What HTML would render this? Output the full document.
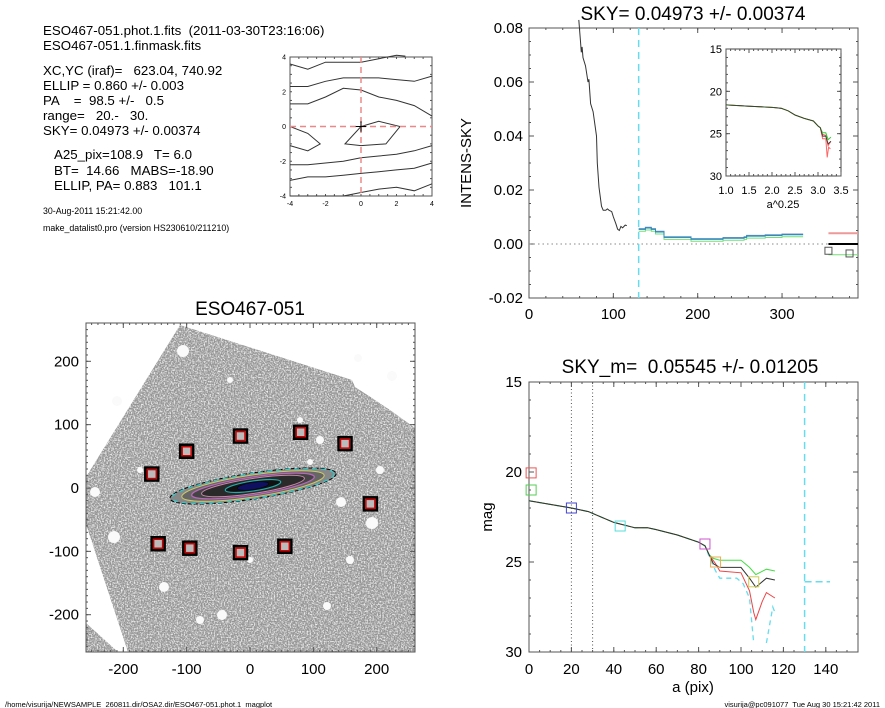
<!DOCTYPE html>
<html><head><meta charset="utf-8"><style>
html,body{margin:0;padding:0;background:#fff;}
svg{display:block;font-family:"Liberation Sans",Arial,sans-serif;}
text{white-space:pre;}
</style></head><body>
<svg id="s" width="885" height="708" viewBox="0 0 885 708" xmlns="http://www.w3.org/2000/svg" xml:space="preserve">
<defs>
<filter id="noise" x="0" y="0" width="100%" height="100%">
<feTurbulence type="fractalNoise" baseFrequency="0.7" numOctaves="2" seed="3" result="t"/>
<feColorMatrix type="matrix" values="0 0 0 0 0.3  0 0 0 0 0.3  0 0 0 0 0.3  2.2 0 0 0 -0.45" result="a"/>
<feComponentTransfer in="a" result="b"><feFuncA type="discrete" tableValues="0 0.3 0.6 0.85 1"/></feComponentTransfer>
<feFlood flood-color="#eeeeee" result="w"/>
<feComposite in="b" in2="w" operator="over" result="c"/>
<feComposite in="c" in2="SourceGraphic" operator="in"/>
</filter>
<clipPath id="imgclip"><rect x="86" y="323" width="329" height="329"/></clipPath>
</defs>
<g font-size="13.3" fill="#000">
<text x="43" y="35">ESO467-051.phot.1.fits  (2011-03-30T23:16:06)</text>
<text x="43" y="50">ESO467-051.1.finmask.fits</text>
<text x="43" y="75">XC,YC (iraf)=   623.04, 740.92</text>
<text x="43" y="90">ELLIP = 0.860 +/- 0.003</text>
<text x="43" y="105">PA    =  98.5 +/-   0.5</text>
<text x="43" y="120">range=   20.-   30.</text>
<text x="43" y="135">SKY= 0.04973 +/- 0.00374</text>
<text x="54" y="159">A25_pix=108.9   T= 6.0</text>
<text x="54" y="175">BT=  14.66   MABS=-18.90</text>
<text x="54" y="190">ELLIP, PA= 0.883   101.1</text>
<text x="43" y="214" font-size="8.8">30-Aug-2011 15:21:42.00</text>
<text x="43" y="231" font-size="8.8">make_datalist0.pro (version HS230610/211210)</text>
</g>
<g id="g"></g>
</svg>
<script>
var NS="http://www.w3.org/2000/svg",G=document.getElementById("g");
function el(n,a,t){var e=document.createElementNS(NS,n);for(var k in a)e.setAttribute(k,a[k]);if(t!==undefined)e.textContent=t;G.appendChild(e);return e;}
function line(x1,y1,x2,y2,c,w,d){var a={x1:x1,y1:y1,x2:x2,y2:y2,stroke:c,"stroke-width":w||1};if(d)a["stroke-dasharray"]=d;el("line",a);}
function txt(x,y,s,fs,anc,extra){var a={x:x,y:y,"font-size":fs,"text-anchor":anc||"middle"};for(var k in extra)a[k]=extra[k];el("text",a,s);}
function poly(pts,c,w,d){var a={points:pts.map(function(p){return p[0].toFixed(1)+","+p[1].toFixed(1)}).join(" "),fill:"none",stroke:c,"stroke-width":w||1};if(d)a["stroke-dasharray"]=d;el("polyline",a);}
function box(x0,y0,x1,y1){el("rect",{x:x0,y:y0,width:x1-x0,height:y1-y0,fill:"none",stroke:"#555","stroke-width":1});}
function ticks(x0,y0,x1,y1,xs,ys,len){
 xs.forEach(function(x){line(x,y1,x,y1-len,"#555",1);line(x,y0,x,y0+len,"#555",1);});
 ys.forEach(function(y){line(x0,y,x0+len,y,"#555",1);line(x1,y,x1-len,y,"#555",1);});
}
function rng(a,b,s){var r=[];for(var v=a;v<=b+1e-9;v+=s)r.push(v);return r;}

/* ---- contour panel ---- */
(function(){
 var x0=290,x1=432,y0=57,y1=196;
 var X=function(v){return x0+(v+4)*(x1-x0)/8},Y=function(v){return y1-(v+4)*(y1-y0)/8};
 box(x0,y0,x1,y1);
 ticks(x0,y0,x1,y1,rng(-4,4,0.5).map(X),rng(-4,4,0.5).map(Y),2);
 [-4,-2,0,2,4].forEach(function(v){txt(X(v),206,String(v),7);txt(x0-4,Y(v)+2.5,String(v),7,"end");});
 var c="#333";
 var M=function(a){return a.map(function(p){return[X(p[0]),Y(p[1])]})};
 poly(M([[-4,3.6],[-3,3.3],[-2,3.7],[-1,3.7],[0,3.7],[1,3.9],[2,4.1],[2.5,4.05]]),c);
 poly(M([[-4,2.3],[-3,2.3],[-2,2.6],[-1,2.8],[0,2.8],[1,2.8],[2,2.7],[3,2.6],[4,2.9]]),c);
 poly(M([[-4,1.3],[-3,1.3],[-2,1.7],[-1,2.2],[0,2.1],[1,1.7],[2,1.5],[3,1.2],[4,0.6]]),c);
 poly(M([[-4,0],[-3,-0.4],[-2.3,-1],[-3,-1.4],[-4,-1.1]]),c);
 poly(M([[0,0],[1,0.3],[2.2,0],[1.4,-1],[0,-1.1],[-0.9,-1],[0,0]]),c);
 poly(M([[-4,-2.2],[-3,-2.2],[-2,-2.1],[-1,-2],[0,-1.8],[1,-1.7],[2,-1.6],[3,-1.4],[4,-1.1]]),c);
 poly(M([[-4,-3.1],[-3,-2.9],[-2,-2.9],[-1,-2.8],[0,-2.7],[1,-2.6],[2,-2.5],[3,-2.4],[4,-2.1]]),c);
 poly(M([[-4,-4],[-3,-4],[-2,-4],[-1,-4],[0,-3.8],[1,-3.6],[2,-3.5],[3,-3.7],[4,-3.3]]),c);
 line(x0,Y(0),x1,Y(0),"#e88",1.5,"6,4");line(X(0),y0,X(0),y1,"#e88",1.5,"6,4");
 line(X(-0.3),Y(0),X(0.3),Y(0),"#000",1);line(X(0),Y(-0.3),X(0),Y(0.3),"#000",1);
})();

/* ---- image panel ---- */
(function(){
 var x0=86,x1=415,y0=323,y1=652;
 var X=function(v){return 250+v*0.6335},Y=function(v){return 488-v*0.6335};
 var g=el("g",{"clip-path":"url(#imgclip)"});
 function addp(pts,fill,filter){var p=document.createElementNS(NS,"polygon");p.setAttribute("points",pts.map(function(q){return q.join(",")}).join(" "));p.setAttribute("fill",fill);if(filter)p.setAttribute("filter",filter);g.appendChild(p);}
 addp([[180,325],[352,380],[355,387],[372,398],[390,410],[415,428],[415,652],[128,652],[86,524],[86,477]],"#777","url(#noise)");
 addp([[86,623],[118,652],[86,652]],"#777","url(#noise)");
 [[183,351,6],[117,401,5],[392,376,5],[358,358,4],[114,537,6],[372,523,6],[341,502,5],[164,587,5],[222,615,5],[327,606,4],[310,462,3],[95,492,5],[300,420,3],[320,440,4],[250,560,3],[200,620,4],[380,470,4],[140,470,3],[230,380,3],[350,560,4]].forEach(function(h){var c=document.createElementNS(NS,"circle");c.setAttribute("cx",h[0]);c.setAttribute("cy",h[1]);c.setAttribute("r",h[2]);c.setAttribute("fill","#fafafa");g.appendChild(c);});
 var gg=document.createElementNS(NS,"g");gg.setAttribute("transform","translate(253,486) rotate(-8.6)");g.appendChild(gg);
 function ell(rx,ry,fill,stroke,sw,d){var e=document.createElementNS(NS,"ellipse");e.setAttribute("rx",rx);e.setAttribute("ry",ry);e.setAttribute("fill",fill);e.setAttribute("stroke",stroke);e.setAttribute("stroke-width",sw);if(d)e.setAttribute("stroke-dasharray",d);gg.appendChild(e);}
 ell(84,13,"#888","#000",1,"4,2");
 ell(82,12.5,"none","#3cc",1.2,"5,4");
 ell(72,11,"#666","#cc6",1);
 ell(62,9,"#444","#b6b",1.3);
 ell(52,7.5,"#2a2a2a","#c8a",1);
 ell(28,5,"#111","#2aa",1.2);
 ell(16,3.5,"#101060","#000",0.5);
 [[-155,22],[-100,58],[-15,82],[80,88],[150,70],[190,-25],[-145,-88],[-95,-95],[-15,-102],[55,-92]].forEach(function(s){
  var cx=X(s[0]),cy=Y(s[1]);
  var r=document.createElementNS(NS,"rect");r.setAttribute("x",cx-6.5);r.setAttribute("y",cy-6.5);r.setAttribute("width",13);r.setAttribute("height",13);r.setAttribute("fill","#bbb");r.setAttribute("stroke","#000");r.setAttribute("stroke-width",2.5);g.appendChild(r);
  var r2=document.createElementNS(NS,"rect");r2.setAttribute("x",cx-4.5);r2.setAttribute("y",cy-4.5);r2.setAttribute("width",9);r2.setAttribute("height",9);r2.setAttribute("fill","none");r2.setAttribute("stroke","#c00");r2.setAttribute("stroke-width",1.5);g.appendChild(r2);
 });
 box(x0,y0,x1,y1);
 ticks(x0,y0,x1,y1,rng(-250,250,10).map(X),rng(-250,250,10).map(Y),2);
 ticks(x0,y0,x1,y1,rng(-200,200,100).map(X),rng(-200,200,100).map(Y),5);
 [-200,-100,0,100,200].forEach(function(v){txt(X(v),674,String(v),15);txt(x0-7,Y(v)+5,String(v),15,"end");});
 txt(250,315,"ESO467-051",19);
})();

/* ---- SKY panel ---- */
(function(){
 var x0=529,x1=858,y0=28,y1=298;
 var X=function(v){return x0+v*0.8435},Y=function(v){return 244-v*2700};
 box(x0,y0,x1,y1);
 ticks(x0,y0,x1,y1,rng(0,390,20).map(X),rng(-0.02,0.08,0.005).map(Y),2);
 ticks(x0,y0,x1,y1,rng(0,300,100).map(X),rng(-0.02,0.08,0.02).map(Y),5);
 [0,100,200,300].forEach(function(v){txt(X(v),319,String(v),15);});
 [[-0.02,"-0.02"],[0,"0.00"],[0.02,"0.02"],[0.04,"0.04"],[0.06,"0.06"],[0.08,"0.08"]].forEach(function(v){txt(x0-6,Y(v[0])+5,v[1],15,"end");});
 txt(693,20,"SKY= 0.04973 +/- 0.00374",19);
 el("text",{x:0,y:0,"font-size":15,"text-anchor":"middle",transform:"translate(471,163) rotate(-90)"},"INTENS-SKY");
 line(x0,Y(0),x1,Y(0),"#888",1,"1.5,3");
 line(X(130),y0,X(130),y1,"#6de",1.5,"7,5");
 var P=function(a){return a.map(function(p){return[X(p[0]),Y(p[1])]})};
 poly(P([[59,0.083],[61,0.075],[62,0.071],[63,0.073],[64,0.069],[67,0.066],[70,0.06],[71,0.061],[73,0.052],[76,0.049],[80,0.04],[81,0.03],[83,0.021],[86,0.014],[88,0.0125],[91,0.0125],[93,0.013],[95,0.0125],[98,0.012],[100,0.01],[103,0.0075],[105,0.0055],[107,0.005],[109,0.0065],[111,0.006],[114,0.007],[116,0.0068]]),"#333",1);
 var st=[[130,0.0055],[138,0.006],[145,0.0055],[150,0.0045],[158,0.0045],[160,0.0025],[185,0.0025],[192,0.0018],[215,0.0018],[230,0.0022],[255,0.0025],[258,0.003],[280,0.0032],[300,0.0035],[325,0.0035]];
 function steps(off,c){var pts=[];for(var i=0;i<st.length;i++){var v=st[i][1]+off;if(i>0)pts.push([st[i][0],st[i-1][1]+off]);pts.push([st[i][0],v]);}poly(P(pts),c,1);}
 steps(-0.0008,"#7d7");steps(0.0002,"#88c");steps(-0.0001,"#3bd");steps(0,"#2a8ab0");
 line(X(355),Y(0.004),x1,Y(0.004),"#e99",2);
 line(X(355),Y(0),x1,Y(0),"#000",2);
 line(X(355),Y(-0.004),x1,Y(-0.004),"#7d7",1);
 [[355,-0.0025],[380,-0.0035]].forEach(function(p){el("rect",{x:X(p[0])-3.5,y:Y(p[1])-3.5,width:7,height:7,fill:"none",stroke:"#555"});});
 var ix0=726,ix1=841,iy0=49,iy1=176;
 var IX=function(v){return ix0+(v-1)*(ix1-ix0)/2.5},IY=function(v){return iy0+(v-15)*(iy1-iy0)/15};
 el("rect",{x:ix0,y:iy0,width:ix1-ix0,height:iy1-iy0,fill:"#fff",stroke:"#444"});
 ticks(ix0,iy0,ix1,iy1,rng(1,3.5,0.1).map(IX),rng(15,30,1).map(IY),2);
 ticks(ix0,iy0,ix1,iy1,rng(1,3.5,0.5).map(IX),rng(15,30,5).map(IY),4);
 [1.0,1.5,2.0,2.5,3.0,3.5].forEach(function(v){txt(IX(v),194,v.toFixed(1),11);});
 [15,20,25,30].forEach(function(v){txt(ix0-4,IY(v)+4,String(v),11,"end");});
 txt(783,208,"a^0.25",11);
 var base=[[1,21.6],[1.5,21.75],[2,21.9],[2.2,22],[2.35,22.3],[2.5,22.8],[2.7,23.2],[2.9,23.5],[3.0,24.1],[3.05,24.3]];
 var I=function(a){return a.map(function(p){return[IX(p[0]),IY(p[1])]})};
 poly(I(base.concat([[3.1,25.1],[3.17,25.2],[3.22,26.4],[3.28,25.9]])),"#e55",1);
 poly(I(base.concat([[3.1,25.6],[3.17,25.6],[3.2,27.8],[3.23,26.6],[3.27,26.8]])),"#f66",1);
 poly(I(base.concat([[3.1,24.9],[3.17,24.9],[3.22,25.7],[3.28,25.4]])),"#3c3",1);
 poly(I(base.concat([[3.1,25.3],[3.17,25.3],[3.22,26.2],[3.28,25.9]])),"#333",0.8);
})();

/* ---- mag panel ---- */
(function(){
 var x0=529,x1=858,y0=382,y1=652;
 var X=function(v){return 529+v*2.12},Y=function(v){return y0+(v-15)*18};
 box(x0,y0,x1,y1);
 ticks(x0,y0,x1,y1,rng(0,154,5).map(X),rng(15,30,1).map(Y),2);
 ticks(x0,y0,x1,y1,rng(0,140,20).map(X),rng(15,30,5).map(Y),5);
 [0,20,40,60,80,100,120,140].forEach(function(v){txt(X(v),674,String(v),15);});
 [15,20,25,30].forEach(function(v){txt(x0-7,Y(v)+5,String(v),15,"end");});
 txt(690,373,"SKY_m=  0.05545 +/- 0.01205",19);
 txt(693,692,"a (pix)",15);
 el("text",{x:0,y:0,"font-size":15,"text-anchor":"middle",transform:"translate(492,517) rotate(-90)"},"mag");
 line(X(20),y0,X(20),y1,"#555",1,"1,2.5");line(X(30),y0,X(30),y1,"#555",1,"1,2.5");
 line(X(130),y0,X(130),y1,"#6de",1.5,"7,5");
 line(X(130),Y(26.1),X(142),Y(26.1),"#6de",1.5,"7,4");
 var P=function(a){return a.map(function(p){return[X(p[0]),Y(p[1])]})};
 var base=[[0,21.6],[10,21.8],[20,22.0],[28,22.2],[32,22.4],[36,22.6],[40,22.8],[50,23.1],[56,23.1],[60,23.2],[70,23.5],[80,23.9],[83,24.1],[85,24.6]];
 poly(P(base.slice(0,13).concat([[85,24.7],[88,25.5],[90,25.9],[98,25.9],[101,26.2],[104,27],[106,29.5]])),"#6de",1.3,"5,4");
 poly(P([[112,29.5],[115,27.5],[116,27.8]]),"#6de",1.3,"5,4");
 poly(P(base.concat([[88,25.1],[90,25.5],[100,25.6],[104,26.6],[106,27.8],[107,28.2],[110,27.2],[112,26.7],[116,27.0]])),"#e44",1);
 poly(P(base.concat([[87,24.8],[90,24.9],[100,24.9],[104,25.3],[107,25.7],[112,25.4],[116,25.5]])),"#4d4",1);
 poly(P(base.concat([[87,25.1],[90,25.3],[100,25.3],[104,25.9],[107,26.4],[112,25.9],[116,26.0]])),"#333",1);
 [[1,20.05,"#e55"],[1,21.0,"#5c5"],[20,22.0,"#44c"],[43,23.0,"#5dd"],[83,24.0,"#c5c"],[88,25.0,"#ea5"],[106,26.1,"#cc5"]].forEach(function(p){el("rect",{x:X(p[0])-5,y:Y(p[1])-5,width:10,height:10,fill:"none",stroke:p[2],"stroke-width":1});});
})();
txt(5,707,"/home/visurija/NEWSAMPLE_260811.dir/OSA2.dir/ESO467-051.phot.1_magplot",7.5,"start");
txt(880,707,"visurija@pc091077  Tue Aug 30 15:21:42 2011",7.5,"end");
</script>
</body></html>
